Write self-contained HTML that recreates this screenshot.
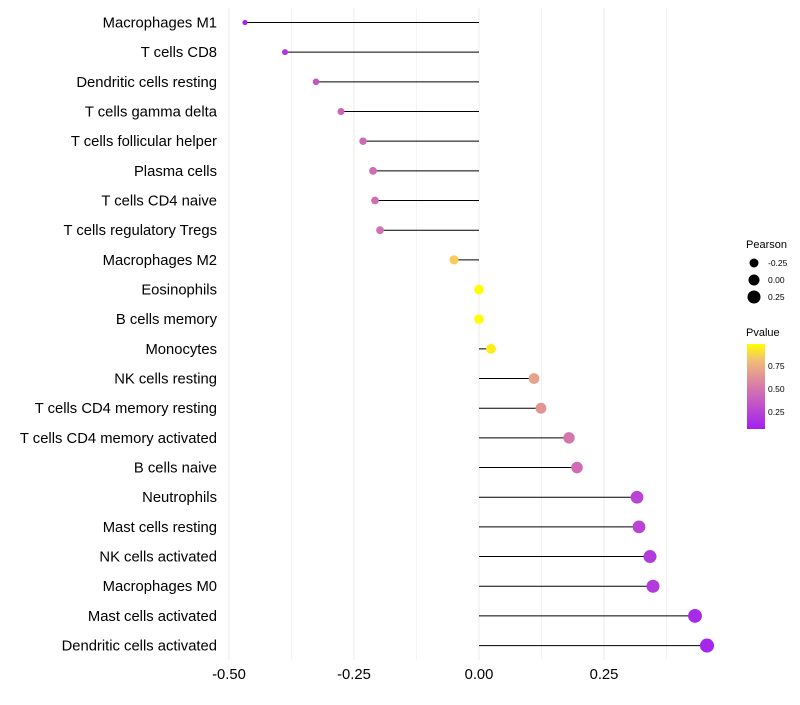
<!DOCTYPE html>
<html><head><meta charset="utf-8"><style>
body{margin:0;background:#fff;}
svg text{font-family:"Liberation Sans",sans-serif;}
</style></head><body>
<svg id="chart" width="800" height="700" xmlns="http://www.w3.org/2000/svg">
<defs><linearGradient id="pg" x1="0" y1="1" x2="0" y2="0">
<stop offset="0" stop-color="#a020f0"/><stop offset="0.3" stop-color="#c455c8"/><stop offset="0.55" stop-color="#dc85a0"/><stop offset="0.8" stop-color="#f0bc78"/><stop offset="1" stop-color="#ffff00"/></linearGradient></defs>
<g id="grid"></g><g id="marks"></g><g id="labels"></g>
<g>
<text x="746" y="248" font-size="11" fill="#000">Pearson</text>
<circle cx="754" cy="263" r="4.5" fill="#000"/><text x="768" y="266" font-size="8.5">-0.25</text>
<circle cx="754" cy="280" r="5.5" fill="#000"/><text x="768" y="283" font-size="8.5">0.00</text>
<circle cx="754" cy="297" r="6.5" fill="#000"/><text x="768" y="300" font-size="8.5">0.25</text>
<text x="746" y="336" font-size="11">Pvalue</text>
<rect x="747" y="344" width="18" height="85" fill="url(#pg)"/>
<text x="768" y="369" font-size="8.5">0.75</text>
<text x="768" y="392" font-size="8.5">0.50</text>
<text x="768" y="415" font-size="8.5">0.25</text>
</g>
</svg>
<script>
const categories=["Macrophages M1","T cells CD8","Dendritic cells resting","T cells gamma delta","T cells follicular helper","Plasma cells","T cells CD4 naive","T cells regulatory  Tregs","Macrophages M2","Eosinophils","B cells memory","Monocytes","NK cells resting","T cells CD4 memory resting","T cells CD4 memory activated","B cells naive","Neutrophils","Mast cells resting","NK cells activated","Macrophages M0","Mast cells activated","Dendritic cells activated"];
const pearson=[-0.468,-0.388,-0.326,-0.276,-0.232,-0.212,-0.208,-0.198,-0.05,0.0,0.0,0.024,0.11,0.124,0.18,0.196,0.316,0.32,0.342,0.348,0.432,0.456];
const pvalue=[0.03,0.12,0.3,0.38,0.4,0.42,0.43,0.45,0.85,1.0,1.0,0.95,0.68,0.62,0.47,0.42,0.2,0.2,0.15,0.15,0.06,0.04];
const xTicks=[-0.5,-0.25,0,0.25];
const xTickLabels=["-0.50","-0.25","0.00","0.25"];
const ns="http://www.w3.org/2000/svg";
const X=v=>479+v*500;
const Y=i=>22.5+i*29.67;
const R=v=>2.6+(v+0.47)*4.8;
function mk(t,a,p){const e=document.createElementNS(ns,t);for(const k in a)e.setAttribute(k,a[k]);p.appendChild(e);return e;}
function lerp(a,b,t){return a+(b-a)*t;}
const stops=[[0,[160,32,240]],[0.3,[196,85,200]],[0.55,[220,133,160]],[0.8,[240,188,120]],[1,[255,255,0]]];
function col(p){p=Math.max(0,Math.min(1,p));for(let i=1;i<stops.length;i++){if(p<=stops[i][0]){const t=(p-stops[i-1][0])/(stops[i][0]-stops[i-1][0]);const c=stops[i-1][1].map((v,j)=>Math.round(lerp(v,stops[i][1][j],t)));return`rgb(${c})`;}}return"rgb(255,255,0)";}
const grid=document.getElementById('grid'),marks=document.getElementById('marks'),labels=document.getElementById('labels');
[-0.5,-0.375,-0.25,-0.125,0,0.125,0.25,0.375].forEach(v=>{const l=mk('line',{x1:X(v),x2:X(v),y1:8,y2:660,stroke:'#ebebeb','stroke-width':v*8%2==0?1:0.6},grid);});
xTicks.forEach((v,i)=>{const t=mk('text',{x:X(v),y:679,'font-size':14.8,'text-anchor':'middle',fill:'#000'},labels);t.textContent=xTickLabels[i];});
categories.forEach((c,i)=>{
const t=mk('text',{x:217,y:Y(i)+5,'font-size':14.8,'text-anchor':'end',fill:'#000'},labels);t.textContent=c;

const l=mk('line',{x1:X(0),x2:X(pearson[i]),y1:Y(i),y2:Y(i),stroke:'#000','stroke-width':1},marks);

const d=mk('circle',{cx:X(pearson[i]),cy:Y(i),r:R(pearson[i]),fill:col(pvalue[i])},marks);

});
</script>
</body></html>
